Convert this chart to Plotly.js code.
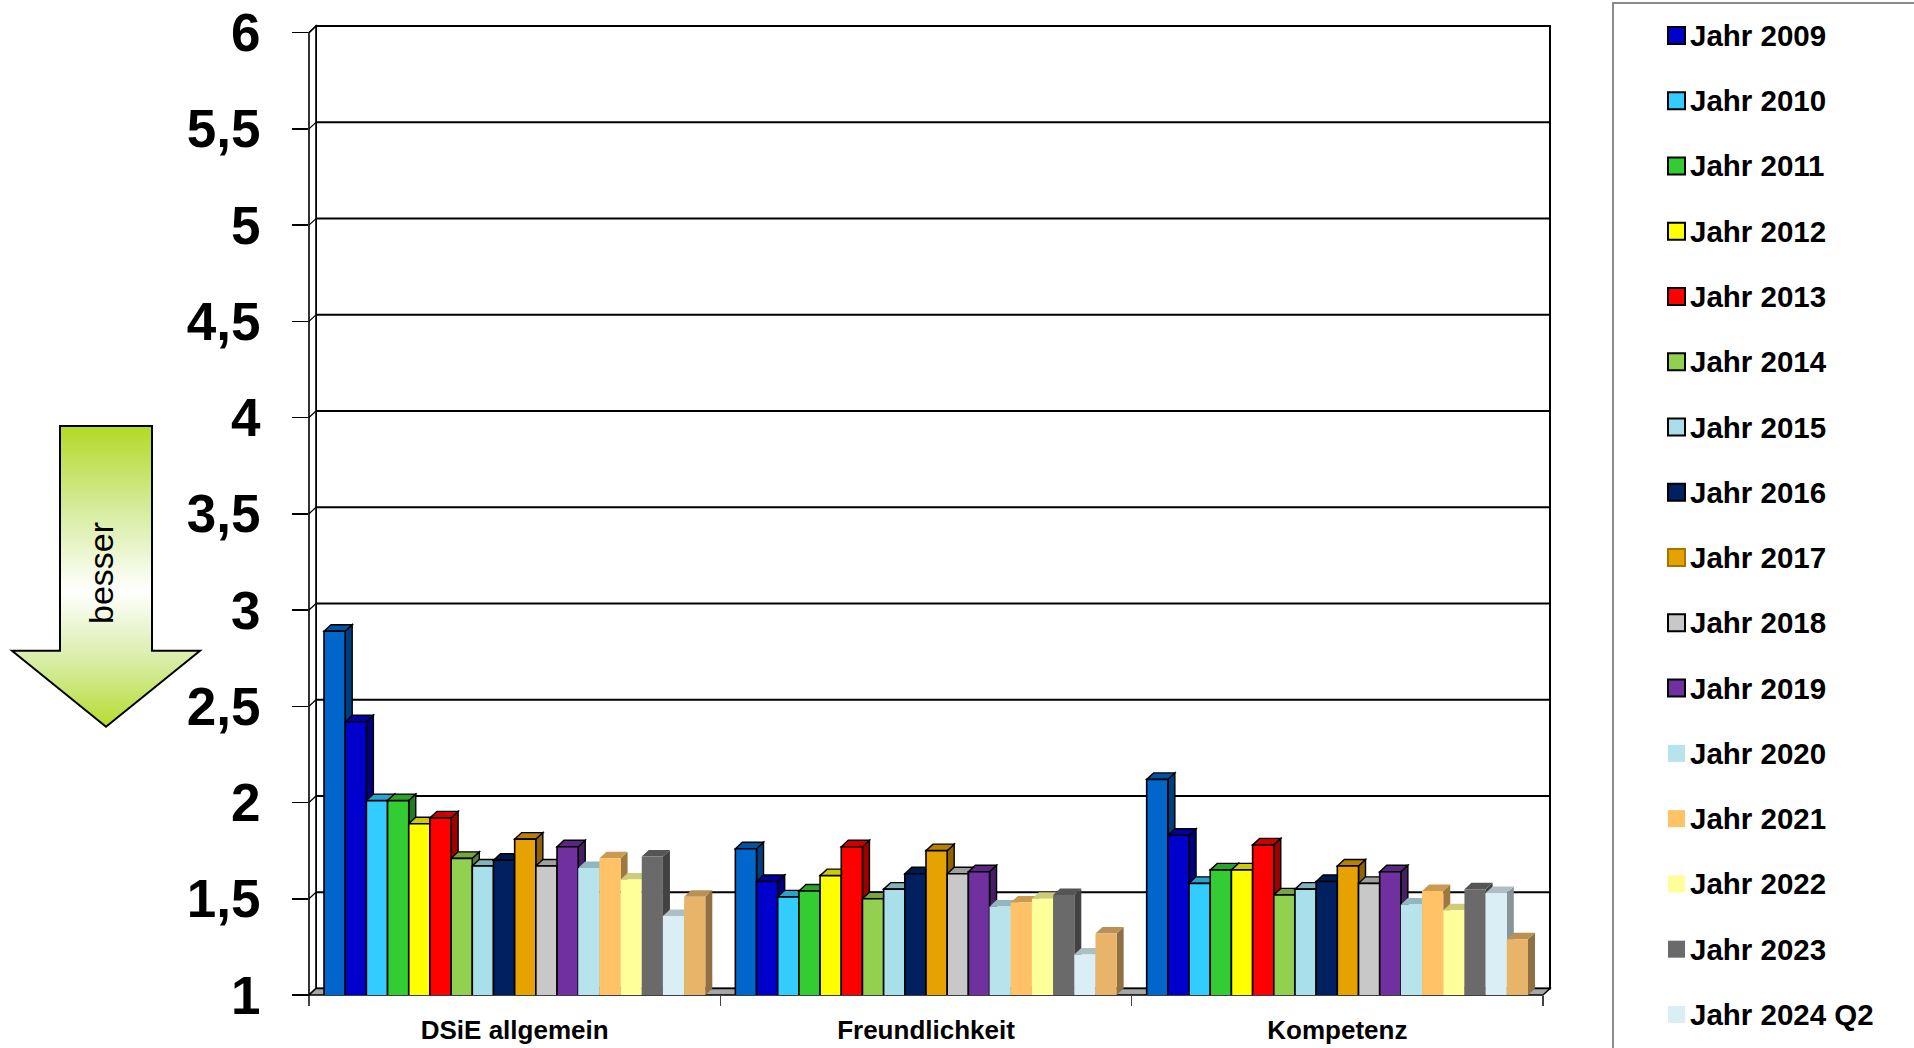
<!DOCTYPE html>
<html>
<head>
<meta charset="utf-8">
<script src="https://cdn.plot.ly/plotly-3.0.1.min.js"></script>
<style>
  html, body { margin: 0; padding: 0; background: #ffffff; overflow: hidden; }
  #chart { width: 1914px; height: 1048px; }
</style>
</head>
<body>
<div id="chart"></div>
<script>
// ---- data -------------------------------------------------------------
const categories = ['DSiE allgemein', 'Freundlichkeit', 'Kompetenz'];

const seriesNames = [
  'Jahr 2008', 'Jahr 2009', 'Jahr 2010', 'Jahr 2011', 'Jahr 2012', 'Jahr 2013',
  'Jahr 2014', 'Jahr 2015', 'Jahr 2016', 'Jahr 2017', 'Jahr 2018', 'Jahr 2019',
  'Jahr 2020', 'Jahr 2021', 'Jahr 2022', 'Jahr 2023', 'Jahr 2024 Q2', 'Jahr 2024 Q3'
];

// mean school grade per year (1 = best), one array per category
const dsieValues           = [2.89, 2.42, 2.01, 2.01, 1.89, 1.92, 1.71, 1.67, 1.70, 1.81, 1.67, 1.77, 1.66, 1.71, 1.60, 1.72, 1.41, 1.51];
const freundlichkeitValues = [1.76, 1.59, 1.51, 1.54, 1.62, 1.77, 1.50, 1.55, 1.63, 1.75, 1.63, 1.64, 1.46, 1.48, 1.50, 1.52, 1.21, 1.32];
const kompetenzValues      = [2.12, 1.83, 1.58, 1.65, 1.65, 1.78, 1.52, 1.55, 1.59, 1.67, 1.58, 1.64, 1.47, 1.54, 1.44, 1.55, 1.53, 1.29];

const yTickValues = [1, 1.5, 2, 2.5, 3, 3.5, 4, 4.5, 5, 5.5, 6];

// ---- styling ----------------------------------------------------------
const seriesColors = [
  '#0066CC', '#0000CC', '#33CCFF', '#33CC33', '#FFFF00', '#FF0000',
  '#92D050', '#A8DFEA', '#002060', '#E6A200', '#C8C8C8', '#7030A0',
  '#B7E4EC', '#FFC266', '#FFFF99', '#6A6A6A', '#DAEFF5', '#E8B46A'
];
// first twelve series carry a black outline
const outlined = seriesColors.map((c, i) => i < 12);
const legendBorders = seriesColors.map((c, i) => i === 9 ? '#A67400' : (i < 12 ? '#000000' : null));
const legendFrom = 1, legendTo = 16;

const FONT = 'Arial, "Liberation Sans", sans-serif';

// plot frame in pixels
const M = { l: 309, r: 364, t: 26, b: 53 };
const PW = 1914 - M.l - M.r;   // 1241
const PH = 1048 - M.t - M.b;   // 969
const DX_PX = 7, DY_PX = 6.5;  // depth of the pseudo-3D boxes
const xSpan = 3;               // categories -0.5 .. 2.5
const pxPerX = (PW - DX_PX) / xSpan;
const pxPerY = 192.48;
const dxU = DX_PX / pxPerX;
const dyU = DY_PX / pxPerY;
const xRange = [-0.5, 2.5 + dxU];
const yRange = [1, 1 + PH / pxPerY];
const bargap = 0.073;

// pixel -> paper helpers for the decorations outside the data
const pX = px => (px - M.l) / PW;
const pY = py => (1048 - M.b - py) / PH;
const dataXtoPaper = x => (x - xRange[0]) / (xRange[1] - xRange[0]);
const dataYtoPaper = y => (y - yRange[0]) / (yRange[1] - yRange[0]);

function shade(hex, f) {
  const n = parseInt(hex.slice(1), 16);
  const r = Math.round(((n >> 16) & 255) * f);
  const g = Math.round(((n >> 8) & 255) * f);
  const b = Math.round((n & 255) * f);
  return 'rgb(' + r + ',' + g + ',' + b + ')';
}

const valuesByCategory = [dsieValues, freundlichkeitValues, kompetenzValues];
const nSeries = seriesNames.length;

// ---- traces: front faces of the columns ------------------------------
const traces = seriesNames.map((name, j) => ({
  type: 'bar',
  name: name,
  x: categories,
  y: valuesByCategory.map(arr => arr[j]),
  marker: {
    color: seriesColors[j],
    line: { color: outlined[j] ? '#000000' : seriesColors[j], width: outlined[j] ? 1.6 : 0 }
  },
  showlegend: false,
  hovertemplate: '%{x}<br>' + name + ': %{y:.2f}<extra></extra>'
}));

// ---- shapes: walls, floor, gridlines, box sides -----------------------
const shapes = [];
const px0 = dataXtoPaper(-0.5 + dxU);
const py0 = dataYtoPaper(1 + dyU);
const pyTopFront = dataYtoPaper(6);
const pxFrontRight = dataXtoPaper(2.5);

// back wall
shapes.push({ type: 'rect', xref: 'paper', yref: 'paper', layer: 'below',
  x0: px0, x1: 1, y0: py0, y1: 1, fillcolor: '#ffffff', line: { color: '#000000', width: 2 } });
// back-wall gridlines
yTickValues.filter(t => t > 1 && t < 6).forEach(t => {
  const yy = dataYtoPaper(t + dyU);
  shapes.push({ type: 'line', xref: 'paper', yref: 'paper', layer: 'below',
    x0: px0, x1: 1, y0: yy, y1: yy, line: { color: '#000000', width: 2 } });
});
// left side wall with the tick diagonals
shapes.push({ type: 'path', xref: 'paper', yref: 'paper', layer: 'below',
  path: 'M0,0 L0,' + pyTopFront + ' L' + px0 + ',1 L' + px0 + ',' + py0 + ' Z',
  fillcolor: '#ffffff', line: { color: '#000000', width: 1.6 } });
yTickValues.forEach(t => {
  shapes.push({ type: 'line', xref: 'paper', yref: 'paper', layer: 'below',
    x0: 0, y0: dataYtoPaper(t), x1: px0, y1: dataYtoPaper(t + dyU),
    line: { color: '#000000', width: 1.2 } });
});
// floor
shapes.push({ type: 'path', xref: 'paper', yref: 'paper', layer: 'below',
  path: 'M0,0 L' + pxFrontRight + ',0 L1,' + py0 + ' L' + px0 + ',' + py0 + ' Z',
  fillcolor: '#A6A6A6', line: { color: '#000000', width: 1.4 } });

// side and top faces of every column
const bw = (1 - bargap) / nSeries;
categories.forEach((cat, i) => {
  for (let j = 0; j < nSeries; j++) {
    const v = valuesByCategory[i][j];
    const left = i - (1 - bargap) / 2 + j * bw;
    const right = left + bw;
    const lineStyle = outlined[j] ? { color: '#000000', width: 1.4 } : { width: 0 };
    shapes.push({ type: 'path', xref: 'x', yref: 'y', layer: 'below',
      path: 'M' + right + ',1 L' + right + ',' + v + ' L' + (right + dxU) + ',' + (v + dyU) +
            ' L' + (right + dxU) + ',' + (1 + dyU) + ' Z',
      fillcolor: shade(seriesColors[j], 0.62), line: lineStyle });
    shapes.push({ type: 'path', xref: 'x', yref: 'y', layer: 'below',
      path: 'M' + left + ',' + v + ' L' + right + ',' + v + ' L' + (right + dxU) + ',' + (v + dyU) +
            ' L' + (left + dxU) + ',' + (v + dyU) + ' Z',
      fillcolor: shade(seriesColors[j], 0.8), line: lineStyle });
  }
});

// ---- legend box ------------------------------------------------------
shapes.push({ type: 'rect', xref: 'paper', yref: 'paper', layer: 'above',
  x0: pX(1613), x1: pX(1940), y0: pY(1070), y1: pY(3),
  fillcolor: 'rgba(0,0,0,0)', line: { color: '#8a8a8a', width: 2 } });

const annotations = [];
const legendTop = 35.4, legendStep = 65.27;
for (let j = legendFrom; j <= legendTo; j++) {
  const cy = legendTop + (j - legendFrom) * legendStep;
  const border = legendBorders[j];
  shapes.push({ type: 'rect', xref: 'paper', yref: 'paper', layer: 'above',
    x0: pX(1668), x1: pX(1685), y0: pY(cy + 8.5), y1: pY(cy - 8.5),
    fillcolor: seriesColors[j],
    line: border ? { color: border, width: 2 } : { width: 0 } });
  annotations.push({ xref: 'paper', yref: 'paper', x: pX(1688), y: pY(cy),
    xanchor: 'left', yanchor: 'middle', showarrow: false, text: seriesNames[j],
    font: { family: FONT, size: 29.5, weight: 700, color: '#000000' } });
}

// ---- "besser" arrow --------------------------------------------------
const arrowSvg =
  '<svg xmlns="http://www.w3.org/2000/svg" width="194" height="307" viewBox="0 0 194 307">' +
  '<defs><linearGradient id="g" x1="0" y1="0" x2="0" y2="1">' +
  '<stop offset="0" stop-color="#B2DA26"/>' +
  '<stop offset="0.28" stop-color="#D6EC9E"/>' +
  '<stop offset="0.55" stop-color="#FFFFFF"/>' +
  '<stop offset="0.78" stop-color="#D8EDA6"/>' +
  '<stop offset="1" stop-color="#B6DC2E"/>' +
  '</linearGradient></defs>' +
  '<path d="M51,3 H143 V227.7 H191 L97,303.7 L3,227.7 H51 Z" fill="url(#g)" stroke="#000" stroke-width="2"/>' +
  '</svg>';

const images = [{
  source: 'data:image/svg+xml;charset=utf-8,' + encodeURIComponent(arrowSvg),
  xref: 'paper', yref: 'paper', x: pX(9), y: pY(423), sizex: 194 / PW, sizey: 307 / PH,
  xanchor: 'left', yanchor: 'top', sizing: 'stretch', layer: 'above'
}];

annotations.push({ xref: 'paper', yref: 'paper', x: pX(101), y: pY(573),
  xanchor: 'center', yanchor: 'middle', showarrow: false, textangle: -90, text: 'besser',
  font: { family: FONT, size: 34, color: '#000000' } });

// ---- layout ----------------------------------------------------------
const layout = {
  width: 1914, height: 1048,
  margin: M,
  paper_bgcolor: '#ffffff',
  plot_bgcolor: 'rgba(0,0,0,0)',
  separators: ',.',
  barmode: 'group',
  bargap: bargap,
  bargroupgap: 0,
  showlegend: false,
  xaxis: {
    type: 'category',
    range: xRange,
    showgrid: false, zeroline: false, showline: false,
    ticks: 'outside', tickson: 'boundaries', ticklen: 10, tickwidth: 1.5, tickcolor: '#444444',
    ticklabelstandoff: 17,
    tickfont: { family: FONT, size: 26, weight: 700, color: '#000000' }
  },
  yaxis: {
    range: yRange,
    tickmode: 'array', tickvals: yTickValues,
    showgrid: false, zeroline: false, showline: false,
    ticks: 'outside', ticklen: 16, tickwidth: 1.5, tickcolor: '#000000',
    ticklabelstandoff: 21,
    tickfont: { family: FONT, size: 53, weight: 700, color: '#000000' }
  },
  shapes: shapes,
  annotations: annotations,
  images: images
};

Plotly.newPlot('chart', traces, layout, { displayModeBar: false, staticPlot: true });
</script>
</body>
</html>
